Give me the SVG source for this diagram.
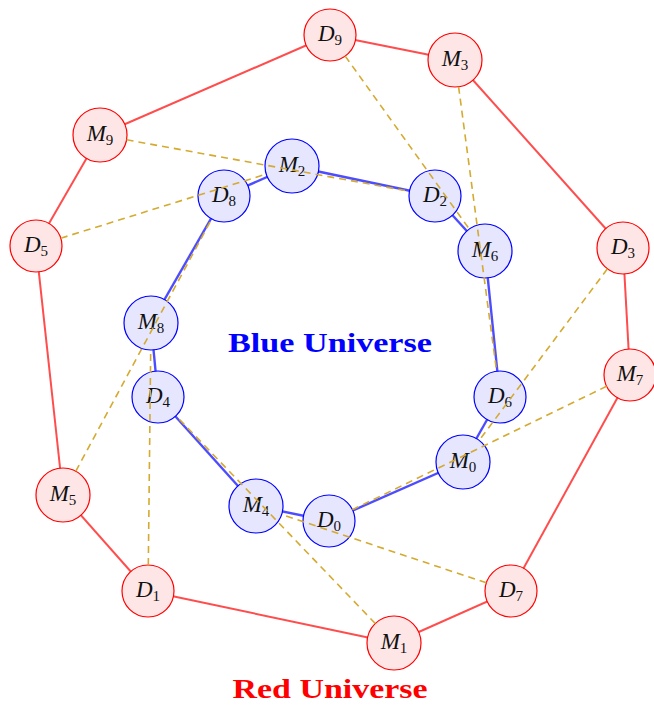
<svg xmlns="http://www.w3.org/2000/svg" width="654" height="705" viewBox="0 0 654 705">
<style>
.red line{stroke:#ff4d4d;stroke-width:2}
.blue line{stroke:#4d4dff;stroke-width:2.4}
.match line{stroke:#d4aa30;stroke-width:1.6;stroke-dasharray:7 5}
.rn circle{fill:#ffe6e6;stroke:#ff0000;stroke-width:1.2}
.bn circle{fill:#e6e6ff;stroke:#0000ff;stroke-width:1.2}
.lbl{font-family:"Liberation Serif","DejaVu Serif",serif;font-style:italic;font-size:23px;fill:#111;text-anchor:middle}
.lbl tspan.s{font-style:normal;font-size:15px}
.title{font-family:"Liberation Serif","DejaVu Serif",serif;font-weight:bold;font-size:28px;text-anchor:middle}
</style>
<g id="connectors">
<g class="red">
<line x1="330" y1="35" x2="455" y2="60"/>
<line x1="455" y1="60" x2="623" y2="248"/>
<line x1="623" y1="248" x2="630" y2="375"/>
<line x1="630" y1="375" x2="511" y2="591"/>
<line x1="511" y1="591" x2="394" y2="643"/>
<line x1="394" y1="643" x2="148" y2="591"/>
<line x1="148" y1="591" x2="63" y2="495"/>
<line x1="63" y1="495" x2="36" y2="246"/>
<line x1="36" y1="246" x2="100" y2="135"/>
<line x1="100" y1="135" x2="330" y2="35"/>
</g>
<g class="blue">
<line x1="292" y1="166" x2="435" y2="196"/>
<line x1="435" y1="196" x2="485" y2="251"/>
<line x1="485" y1="251" x2="500" y2="397"/>
<line x1="500" y1="397" x2="463" y2="462"/>
<line x1="463" y1="462" x2="329" y2="521"/>
<line x1="329" y1="521" x2="256" y2="506"/>
<line x1="256" y1="506" x2="158" y2="397"/>
<line x1="158" y1="397" x2="151" y2="323"/>
<line x1="151" y1="323" x2="224" y2="196"/>
<line x1="224" y1="196" x2="292" y2="166"/>
</g>
</g>
<g id="red-nodes" class="rn">
<g id="D9"><circle cx="330" cy="35" r="26"/><text class="lbl" x="330" y="41">D<tspan class="s" dy="4">9</tspan></text></g>
<g id="M3"><circle cx="455" cy="60" r="27"/><text class="lbl" x="455" y="66">M<tspan class="s" dy="4">3</tspan></text></g>
<g id="D3"><circle cx="623" cy="248" r="26"/><text class="lbl" x="623" y="254">D<tspan class="s" dy="4">3</tspan></text></g>
<g id="M7"><circle cx="630" cy="375" r="26"/><text class="lbl" x="630" y="381">M<tspan class="s" dy="4">7</tspan></text></g>
<g id="D7"><circle cx="511" cy="591" r="26"/><text class="lbl" x="511" y="597">D<tspan class="s" dy="4">7</tspan></text></g>
<g id="M1"><circle cx="394" cy="643" r="27"/><text class="lbl" x="394" y="649">M<tspan class="s" dy="4">1</tspan></text></g>
<g id="D1"><circle cx="148" cy="591" r="26"/><text class="lbl" x="148" y="597">D<tspan class="s" dy="4">1</tspan></text></g>
<g id="M5"><circle cx="63" cy="495" r="27"/><text class="lbl" x="63" y="501">M<tspan class="s" dy="4">5</tspan></text></g>
<g id="D5"><circle cx="36" cy="246" r="26"/><text class="lbl" x="36" y="252">D<tspan class="s" dy="4">5</tspan></text></g>
<g id="M9"><circle cx="100" cy="135" r="27"/><text class="lbl" x="100" y="141">M<tspan class="s" dy="4">9</tspan></text></g>
</g>
<g id="blue-nodes" class="bn">
<g id="M2"><circle cx="292" cy="166" r="27"/><text class="lbl" x="292" y="172">M<tspan class="s" dy="4">2</tspan></text></g>
<g id="D2"><circle cx="435" cy="196" r="26"/><text class="lbl" x="435" y="202">D<tspan class="s" dy="4">2</tspan></text></g>
<g id="M6"><circle cx="485" cy="251" r="27"/><text class="lbl" x="485" y="257">M<tspan class="s" dy="4">6</tspan></text></g>
<g id="D6"><circle cx="500" cy="397" r="26"/><text class="lbl" x="500" y="403">D<tspan class="s" dy="4">6</tspan></text></g>
<g id="M0"><circle cx="463" cy="462" r="27"/><text class="lbl" x="463" y="468">M<tspan class="s" dy="4">0</tspan></text></g>
<g id="D0"><circle cx="329" cy="521" r="26"/><text class="lbl" x="329" y="527">D<tspan class="s" dy="4">0</tspan></text></g>
<g id="M4"><circle cx="256" cy="506" r="27"/><text class="lbl" x="256" y="512">M<tspan class="s" dy="4">4</tspan></text></g>
<g id="D4"><circle cx="158" cy="397" r="26"/><text class="lbl" x="158" y="403">D<tspan class="s" dy="4">4</tspan></text></g>
<g id="M8"><circle cx="151" cy="323" r="27"/><text class="lbl" x="151" y="329">M<tspan class="s" dy="4">8</tspan></text></g>
<g id="D8"><circle cx="224" cy="196" r="26"/><text class="lbl" x="224" y="202">D<tspan class="s" dy="4">8</tspan></text></g>
</g>
<g id="matches" class="match">
<line x1="126.6" y1="139.8" x2="409.4" y2="191.3"/>
<line x1="60.8" y1="238.2" x2="266.2" y2="174.1"/>
<line x1="345.2" y1="56.1" x2="469.3" y2="229.1"/>
<line x1="458.6" y1="86.8" x2="496.6" y2="371.2"/>
<line x1="607.4" y1="268.8" x2="479.2" y2="440.4"/>
<line x1="606.6" y1="386.3" x2="352.4" y2="509.7"/>
<line x1="486.3" y1="582.8" x2="281.6" y2="514.5"/>
<line x1="375.3" y1="623.5" x2="176.0" y2="415.8"/>
<line x1="148.3" y1="565.0" x2="150.7" y2="350.0"/>
<line x1="75.8" y1="471.2" x2="211.7" y2="218.9"/>
</g>
<text class="title" x="330" y="352" fill="#0000ff" textLength="204" lengthAdjust="spacingAndGlyphs">Blue Universe</text>
<text class="title" x="330" y="698" fill="#ff0000" textLength="195" lengthAdjust="spacingAndGlyphs">Red Universe</text>
</svg>
